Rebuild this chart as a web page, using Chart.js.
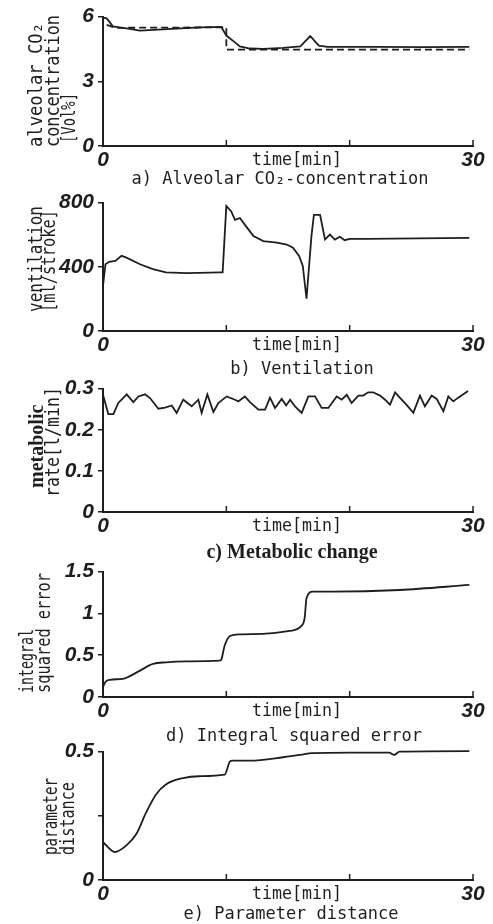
<!DOCTYPE html>
<html>
<head>
<meta charset="utf-8">
<script src="https://cdn.jsdelivr.net/npm/chart.js@4.4.0/dist/chart.umd.min.js"></script>
<style>
html, body { margin: 0; padding: 0; background: #fff; }
#page { position: relative; width: 493px; height: 924px; overflow: hidden; }
canvas { position: absolute; left: 0; }
.cap { position: absolute; white-space: nowrap; font: 17px "DejaVu Sans Mono", monospace; color: #1e1e1e; transform: translate(-50%, -50%); }
.cap.serif { font: bold 20px "Liberation Serif", serif; }
</style>
</head>
<body>
<div id="page">
  <canvas id="chartA" width="493" height="176" style="top:0px"></canvas>
  <canvas id="chartB" width="493" height="175" style="top:186px"></canvas>
  <canvas id="chartC" width="493" height="170" style="top:372px"></canvas>
  <canvas id="chartD" width="493" height="172" style="top:555px"></canvas>
  <canvas id="chartE" width="493" height="175" style="top:735px"></canvas>
  <div class="cap" style="left:280px;top:178px">a) Alveolar CO₂-concentration</div>
  <div class="cap" style="left:302px;top:368px">b) Ventilation</div>
  <div class="cap serif" style="left:292px;top:551px">c) Metabolic change</div>
  <div class="cap" style="left:294px;top:735px">d) Integral squared error</div>
  <div class="cap" style="left:291px;top:913px">e) Parameter distance</div>
</div>
<script>
// time axis (minutes)
const xTicks = [0, 10, 20, 30];
const xTickLabels = ['0', '', '', '30'];

// a) alveolar CO2
const co2Ticks = [0, 3, 6];
const co2TickLabels = ['0', '3', '6'];
const co2Time = [0, 0.3, 0.8, 1.9, 3.0, 5.2, 7.9, 9.6, 10.0, 10.6, 11.1, 11.9, 13.0, 14.6, 16.0, 16.8, 17.5, 18.2, 22.0, 26.0, 29.7];
const co2Measured = [5.95, 5.92, 5.55, 5.45, 5.35, 5.42, 5.5, 5.52, 5.12, 4.85, 4.62, 4.52, 4.5, 4.55, 4.62, 5.1, 4.65, 4.6, 4.6, 4.58, 4.6];
const co2ModelTime = [0.3, 1.0, 10.0, 10.0, 29.7];
const co2Model = [5.62, 5.48, 5.5, 4.47, 4.47];

// b) ventilation
const ventTicks = [0, 400, 800];
const ventTickLabels = ['0', '400', '800'];
const ventTime = [0, 0.2, 0.5, 1.0, 1.5, 1.9, 3.0, 4.05, 5.1, 6.8, 9.5, 9.7, 10.0, 10.4, 10.7, 11.1, 11.6, 12.2, 13.0, 14.1, 14.9, 15.4, 15.9, 16.2, 16.5, 16.9, 17.1, 17.6, 18.0, 18.4, 18.8, 19.2, 19.6, 20.0, 21.4, 29.7];
const ventValues = [283, 416, 431, 437, 468, 457, 416, 386, 365, 361, 365, 365, 779, 745, 693, 704, 652, 591, 560, 550, 539, 519, 468, 406, 201, 591, 724, 724, 570, 601, 570, 587, 566, 574, 574, 580];

// c) metabolic rate
const metTicks = [0, 0.1, 0.2, 0.3];
const metTickLabels = ['0', '0.1', '0.2', '0.3'];
const metTime = [0, 0.43, 0.84, 1.24, 1.92, 2.46, 2.87, 3.41, 3.81, 4.49, 5.03, 5.57, 5.97, 6.51, 7.19, 7.73, 8.0, 8.46, 8.95, 9.35, 10.03, 10.7, 10.97, 11.5, 11.92, 12.6, 13.14, 13.54, 13.95, 14.49, 14.85, 15.17, 15.57, 16.11, 16.65, 17.19, 17.73, 18.27, 18.95, 19.35, 19.76, 20.16, 20.7, 21.1, 21.5, 21.9, 22.46, 22.87, 23.27, 23.68, 24.1, 24.6, 25.16, 25.7, 26.1, 26.65, 27.05, 27.6, 28.0, 28.4, 28.8, 29.6];
const metValues = [0.285, 0.238, 0.238, 0.265, 0.286, 0.267, 0.281, 0.286, 0.277, 0.251, 0.254, 0.259, 0.241, 0.273, 0.257, 0.273, 0.241, 0.286, 0.243, 0.265, 0.281, 0.273, 0.269, 0.281, 0.267, 0.249, 0.249, 0.278, 0.253, 0.275, 0.259, 0.273, 0.257, 0.241, 0.281, 0.281, 0.253, 0.253, 0.281, 0.273, 0.285, 0.265, 0.283, 0.283, 0.291, 0.291, 0.283, 0.273, 0.261, 0.291, 0.277, 0.261, 0.241, 0.283, 0.257, 0.283, 0.275, 0.245, 0.281, 0.269, 0.278, 0.294];

// d) integral squared error
const iseTicks = [0, 0.5, 1, 1.5];
const iseTickLabels = ['0', '0.5', '1', '1.5'];
const iseTime = [0, 0.2, 0.54, 1.6, 2.0, 3.0, 4.05, 5.1, 6.76, 9.46, 9.6, 9.86, 10.3, 11.1, 13.2, 15.1, 16.1, 16.35, 16.5, 17.0, 18.6, 24.05, 29.7];
const iseValues = [0.12, 0.18, 0.205, 0.217, 0.237, 0.316, 0.395, 0.415, 0.426, 0.434, 0.45, 0.612, 0.73, 0.75, 0.758, 0.79, 0.85, 0.947, 1.18, 1.26, 1.26, 1.28, 1.34];

// e) parameter distance
const pdTicks = [0, 0.25, 0.5];
const pdTickLabels = ['0', '', '0.5'];
const pdTime = [0, 0.95, 1.9, 2.7, 3.5, 4.3, 5.1, 6.5, 7.8, 9.86, 10.3, 10.5, 11.9, 14.6, 15.9, 17.0, 20.0, 23.2, 23.6, 24.05, 29.7];
const pdValues = [0.147, 0.109, 0.135, 0.179, 0.263, 0.333, 0.372, 0.397, 0.404, 0.41, 0.462, 0.465, 0.465, 0.478, 0.487, 0.494, 0.496, 0.496, 0.487, 0.5, 0.502];

const INK = '#1e1e1e';
const MONO = '"DejaVu Sans Mono", monospace';

function pts(xs, ys) {
    return xs.map((x, i) => ({ x: x, y: ys[i] }));
}

// axis title lines, the "time[min]" label and inward x ticks
const decor = {
    id: 'decor',
    afterDraw(chart, args, opts) {
        const ctx = chart.ctx;
        const xs = chart.scales.x;
        const area = chart.chartArea;
        ctx.save();
        ctx.strokeStyle = INK;
        ctx.lineWidth = 1.5;
        [10, 20, 30].forEach(v => {
            const px = xs.getPixelForValue(v);
            ctx.beginPath();
            ctx.moveTo(px, area.bottom);
            ctx.lineTo(px, area.bottom - 6);
            ctx.stroke();
        });
        ctx.fillStyle = INK;
        ctx.font = '17px ' + MONO;
        ctx.textAlign = 'center';
        ctx.textBaseline = 'middle';
        ctx.fillText('time[min]', 297, area.bottom + 15, 90);
        opts.lines.forEach(l => {
            ctx.save();
            ctx.translate(l.x, area.bottom + l.dy);
            ctx.rotate(-Math.PI / 2);
            ctx.font = l.font || ('19px ' + MONO);
            ctx.textAlign = 'left';
            ctx.fillText(l.text, 0, 0, l.w);
            ctx.restore();
        });
        ctx.restore();
    }
};

function makePanel(p) {
    const canvas = document.getElementById(p.id);
    const top = parseInt(canvas.style.top);
    const H = canvas.height;
    const tickFont = { family: '"Liberation Sans", Arial, sans-serif', size: 21, weight: 'bold', style: 'italic' };
    new Chart(canvas, {
        type: 'line',
        data: {
            datasets: p.series.map(s => ({
                data: s.data,
                borderColor: INK,
                borderWidth: 1.8,
                borderDash: s.dash || [],
                pointRadius: 0,
                cubicInterpolationMode: s.smooth ? 'monotone' : 'default',
                tension: 0,
                clip: false
            }))
        },
        options: {
            responsive: false,
            animation: false,
            events: [],
            layout: { autoPadding: false, padding: { top: p.plotTop - top, right: 20, left: 0, bottom: 0 } },
            plugins: {
                legend: { display: false },
                tooltip: { enabled: false },
                decor: { lines: p.lines }
            },
            scales: {
                x: {
                    type: 'linear', min: 0, max: 30,
                    afterFit: s => { s.height = H - (p.plotBottom - top); },
                    afterBuildTicks: s => { s.ticks = xTicks.map(v => ({ value: v })); },
                    ticks: { callback: (v, i) => xTickLabels[i], font: tickFont, color: INK, padding: 2, maxRotation: 0, autoSkip: false },
                    grid: { drawOnChartArea: false, drawTicks: false },
                    border: { color: INK, width: 2 }
                },
                y: {
                    type: 'linear', min: p.ticks[0], max: p.ticks[p.ticks.length - 1],
                    afterFit: s => { s.width = 103; },
                    afterBuildTicks: s => { s.ticks = p.ticks.map(v => ({ value: v })); },
                    ticks: { callback: (v, i) => p.labels[i], font: tickFont, color: INK, padding: 4, autoSkip: false },
                    grid: { drawOnChartArea: false, drawTicks: true, tickLength: 5, color: INK, lineWidth: 1.5 },
                    border: { color: INK, width: 2 }
                }
            }
        },
        plugins: [decor]
    });
}

makePanel({
    id: 'chartA', plotTop: 15, plotBottom: 146,
    ticks: co2Ticks, labels: co2TickLabels,
    series: [
        { data: pts(co2Time, co2Measured) },
        { data: pts(co2ModelTime, co2Model), dash: [7, 4] }
    ],
    lines: [
        { text: 'alveolar CO₂', x: 37, dy: 1, w: 124 },
        { text: 'concentration', x: 54, dy: 1, w: 132 },
        { text: '[Vol%]', x: 70, dy: -3, w: 50 }
    ]
});

makePanel({
    id: 'chartB', plotTop: 201, plotBottom: 331,
    ticks: ventTicks, labels: ventTickLabels,
    series: [{ data: pts(ventTime, ventValues) }],
    lines: [
        { text: 'ventilation', x: 37, dy: -19, w: 106 },
        { text: '[ml/stroke]', x: 50, dy: -19, w: 102 }
    ]
});

makePanel({
    id: 'chartC', plotTop: 387, plotBottom: 512,
    ticks: metTicks, labels: metTickLabels,
    series: [{ data: pts(metTime, metValues) }],
    lines: [
        { text: 'metabolic', x: 38, dy: -24, w: 93, font: 'bold 20px "Liberation Serif", serif' },
        { text: 'rate[l/min]', x: 54, dy: -15, w: 110 }
    ]
});

makePanel({
    id: 'chartD', plotTop: 570, plotBottom: 697,
    ticks: iseTicks, labels: iseTickLabels,
    series: [{ data: pts(iseTime, iseValues), smooth: true }],
    lines: [
        { text: 'integral', x: 28, dy: -4, w: 64 },
        { text: 'squared error', x: 45, dy: -4, w: 120 }
    ]
});

makePanel({
    id: 'chartE', plotTop: 750, plotBottom: 880,
    ticks: pdTicks, labels: pdTickLabels,
    series: [{ data: pts(pdTime, pdValues), smooth: true }],
    lines: [
        { text: 'parameter', x: 52, dy: -25, w: 77 },
        { text: 'distance', x: 69, dy: -25, w: 73 }
    ]
});
</script>
</body>
</html>
